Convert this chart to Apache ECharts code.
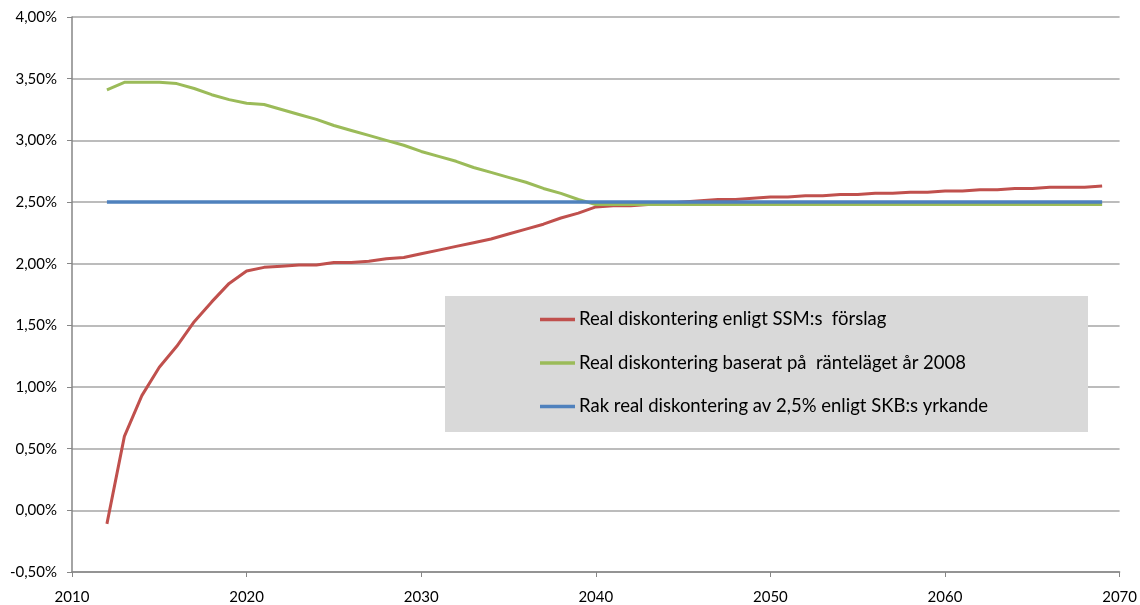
<!DOCTYPE html>
<html>
<head>
<meta charset="utf-8">
<script src="https://cdn.jsdelivr.net/npm/echarts@6/dist/echarts.min.js"></script>
<style>
html,body{margin:0;padding:0;background:#fff;}
#chart{width:1140px;height:605px;}
</style>
</head>
<body>
<div id="chart"></div>
<script>
const years = [];
for (let y = 2012; y <= 2069; y++) years.push(y);

const seriesNames = [
  'Real diskontering enligt SSM:s  förslag',
  'Real diskontering baserat på  ränteläget år 2008',
  'Rak real diskontering av 2,5% enligt SKB:s yrkande'
];

const ssm = [-0.11,0.60,0.93,1.16,1.33,1.53,1.69,1.84,1.94,1.97,
  1.98,1.99,1.99,2.01,2.01,2.02,2.04,2.05,2.08,2.11,
  2.14,2.17,2.20,2.24,2.28,2.32,2.37,2.41,2.46,2.47,
  2.47,2.48,2.49,2.50,2.51,2.52,2.52,2.53,2.54,2.54,
  2.55,2.55,2.56,2.56,2.57,2.57,2.58,2.58,2.59,2.59,
  2.60,2.60,2.61,2.61,2.62,2.62,2.62,2.63];

const rate2008 = [3.41,3.47,3.47,3.47,3.46,3.42,3.37,3.33,3.30,3.29,
  3.25,3.21,3.17,3.12,3.08,3.04,3.00,2.96,2.91,2.87,
  2.83,2.78,2.74,2.70,2.66,2.61,2.57,2.52,2.48,2.48,
  2.48,2.48,2.48,2.48,2.48,2.48,2.48,2.48,2.48,2.48,
  2.48,2.48,2.48,2.48,2.48,2.48,2.48,2.48,2.48,2.48,
  2.48,2.48,2.48,2.48,2.48,2.48,2.48,2.48];

const skb = [2.5,2.5,2.5,2.5,2.5,2.5,2.5,2.5,2.5,2.5,
  2.5,2.5,2.5,2.5,2.5,2.5,2.5,2.5,2.5,2.5,
  2.5,2.5,2.5,2.5,2.5,2.5,2.5,2.5,2.5,2.5,
  2.5,2.5,2.5,2.5,2.5,2.5,2.5,2.5,2.5,2.5,
  2.5,2.5,2.5,2.5,2.5,2.5,2.5,2.5,2.5,2.5,
  2.5,2.5,2.5,2.5,2.5,2.5,2.5,2.5];

const xTicks = [2010, 2020, 2030, 2040, 2050, 2060, 2070];
const yTicks = ['-0,50%','0,00%','0,50%','1,00%','1,50%','2,00%','2,50%','3,00%','3,50%','4,00%'];

const colors = ['#C0504D', '#9BBB59', '#4F81BD'];
const font = 'Lato, "Open Sans", sans-serif';

function pairs(vals) { return years.map((y, i) => [y, vals[i]]); }

const chart = echarts.init(document.getElementById('chart'), null, {renderer: 'canvas'});
const axisGray = '#868686';
chart.setOption({
  animation: false,
  backgroundColor: '#ffffff',
  color: colors,
  grid: { left: 72, right: 19, top: 17, bottom: 33, containLabel: false },
  xAxis: {
    type: 'value',
    min: xTicks[0], max: xTicks[xTicks.length - 1], interval: 10,
    axisLine: { show: true, onZero: false, lineStyle: { color: axisGray, width: 1.5 } },
    axisTick: { show: true, inside: false, length: 5, lineStyle: { color: axisGray } },
    splitLine: { show: false },
    axisLabel: { color: '#000', fontFamily: font, fontSize: 15, margin: 18,
      formatter: v => String(v) }
  },
  yAxis: {
    type: 'value',
    min: -0.5, max: 4, interval: 0.5,
    axisLine: { show: true, lineStyle: { color: axisGray, width: 1.5 } },
    axisTick: { show: true, inside: false, length: 5, lineStyle: { color: axisGray } },
    splitLine: { show: true, lineStyle: { color: '#a6a6a6', width: 1.5 } },
    axisLabel: { color: '#000', fontFamily: font, fontSize: 15, margin: 15,
      formatter: v => yTicks[Math.round((v + 0.5) / 0.5)] }
  },
  legend: {
    orient: 'vertical',
    left: 540, top: 309,
    icon: 'rect',
    itemWidth: 35, itemHeight: 3.5,
    itemGap: 22.5,
    padding: 0,
    textStyle: { color: '#000', fontFamily: font, fontSize: 18.5, lineHeight: 21, padding: [0,0,0,-1] },
    data: seriesNames
  },
  graphic: [{
    type: 'rect', left: 445, top: 296, z: 3,
    shape: { width: 643, height: 136 },
    style: { fill: '#d9d9d9' }
  }],
  series: [
    { name: seriesNames[0], type: 'line', data: pairs(ssm), symbol: 'none', lineStyle: { width: 3, color: colors[0] }, z: 2 },
    { name: seriesNames[1], type: 'line', data: pairs(rate2008), symbol: 'none', lineStyle: { width: 3, color: colors[1] }, z: 2 },
    { name: seriesNames[2], type: 'line', data: pairs(skb), symbol: 'none', lineStyle: { width: 3.5, color: colors[2] }, z: 2 }
  ]
});
</script>
</body>
</html>
